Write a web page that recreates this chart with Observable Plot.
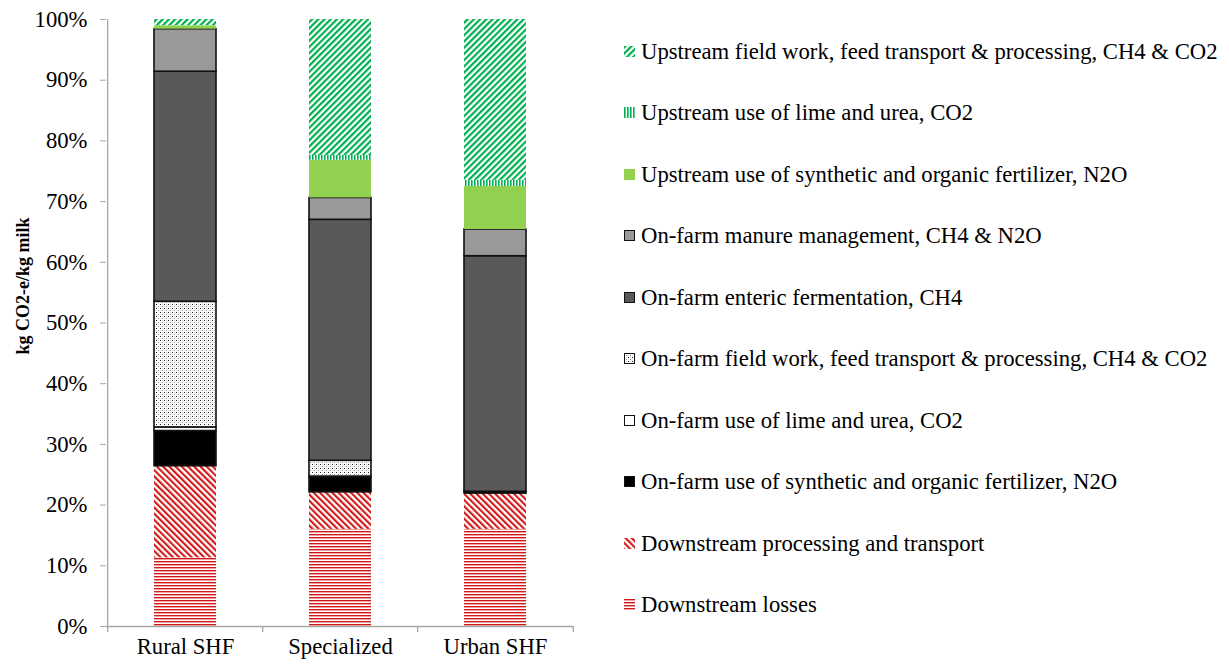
<!DOCTYPE html>
<html><head><meta charset="utf-8">
<script src="https://cdn.jsdelivr.net/npm/d3@7"></script>
<script src="https://cdn.jsdelivr.net/npm/@observablehq/plot@0.6"></script>
<style>
body{margin:0;background:#fff;font-family:"Liberation Serif","Times New Roman",serif;}
#wrap{position:relative;width:1229px;height:666px;overflow:hidden;}
#chart{position:absolute;left:0;top:0;}
#ytitle{position:absolute;left:23px;top:286px;transform:translate(-50%,-50%) rotate(-90deg);font-weight:bold;font-size:18px;white-space:nowrap;color:#000;}
.item{position:absolute;left:624px;height:24px;display:flex;align-items:center;white-space:nowrap;font-size:22.7px;color:#000;}
.item svg{margin-right:5px;flex:none;}
</style></head><body>
<svg width="0" height="0" style="position:absolute">
<defs>
<pattern id="pLoss" patternUnits="userSpaceOnUse" width="4" height="3"><rect width="4" height="3" fill="#fff"/><rect width="4" height="1.4" fill="#d01818"/><rect y="1.4" width="4" height="0.6" fill="#f0a0a0"/></pattern>
<pattern id="pProc" patternUnits="userSpaceOnUse" width="4.4" height="10" patternTransform="rotate(-45)"><rect width="4.4" height="10" fill="#fff"/><rect width="2.1" height="10" fill="#d01818"/></pattern>
<pattern id="pDots" patternUnits="userSpaceOnUse" width="4" height="4"><rect width="4" height="4" fill="#fff"/><rect width="1" height="1" fill="#222"/><rect x="2" y="2" width="1" height="1" fill="#999"/><rect x="2" y="0" width="1" height="1" fill="#ddd"/><rect x="0" y="2" width="1" height="1" fill="#ddd"/></pattern>
<pattern id="pUpLime" patternUnits="userSpaceOnUse" width="3" height="4"><rect width="3" height="4" fill="#fff"/><rect width="1.6" height="4" fill="#00b050"/></pattern>
<pattern id="pUpField" patternUnits="userSpaceOnUse" width="4.4" height="10" patternTransform="rotate(45)"><rect width="4.4" height="10" fill="#fff"/><rect width="2.2" height="10" fill="#00b050"/></pattern>
</defs></svg>
<div id="wrap"><div id="chart"></div><div id="ytitle">kg CO2-e/kg milk</div><div id="legend"></div></div>
<script>
// Categories (x axis)
const categories = ["Rural SHF", "Specialized", "Urban SHF"];
// Series names, bottom to top of stack
const seriesNames = [
  "Downstream losses",
  "Downstream processing and transport",
  "On-farm use of synthetic and organic fertilizer, N2O",
  "On-farm use of lime and urea, CO2",
  "On-farm field work, feed transport & processing, CH4 & CO2",
  "On-farm enteric fermentation, CH4",
  "On-farm manure management, CH4 & N2O",
  "Upstream use of synthetic and organic fertilizer, N2O",
  "Upstream use of lime and urea, CO2",
  "Upstream field work, feed transport & processing, CH4 & CO2"
];
// Values (% share) per category: Rural SHF, Specialized, Urban SHF
const downstreamLosses      = [11.3, 16.0, 16.0];
const downstreamProcessing  = [15.1, 6.1, 5.9];
const onFarmFertilizer      = [5.8, 2.5, 0.3];
const onFarmLimeUrea        = [0.6, 0.1, 0.0];
const onFarmFieldWork       = [20.7, 2.6, 0.0];
const onFarmEnteric         = [37.9, 39.7, 38.8];
const onFarmManure          = [7.0, 3.6, 4.4];
const upstreamFertilizer    = [0.55, 6.2, 7.1];
const upstreamLimeUrea      = [0.05, 0.8, 1.0];
const upstreamFieldWork     = [1.0, 22.4, 26.5];
const seriesValues = [downstreamLosses, downstreamProcessing, onFarmFertilizer, onFarmLimeUrea,
  onFarmFieldWork, onFarmEnteric, onFarmManure, upstreamFertilizer, upstreamLimeUrea, upstreamFieldWork];
const yTicks = [0, 10, 20, 30, 40, 50, 60, 70, 80, 90, 100];

// Styles per series
const fills = ["url(#pLoss)", "url(#pProc)", "#000000", "#ffffff", "url(#pDots)", "#595959", "#999999", "#92d050", "url(#pUpLime)", "url(#pUpField)"];
const strokes = ["none", "none", "#111", "#111", "#111", "#111", "#111", "none", "none", "none"];

const data = [];
seriesNames.forEach((s, i) => categories.forEach((c, j) => data.push({cat: c, series: s, idx: i, value: seriesValues[i][j]})));

const W = 590, ML = 106, MR = 17;
const step = (W - ML - MR) / categories.length;
const axisGrey = "#a6a6a6";

const plot = Plot.plot({
  width: W, height: 666,
  marginLeft: ML, marginRight: MR, marginTop: 19, marginBottom: 40,
  style: {fontFamily: "'Liberation Serif','Times New Roman',serif", fontSize: "22.7px", color: "#000", background: "#fff"},
  x: {domain: categories, paddingInner: 0.6, paddingOuter: 0.3, label: null},
  y: {domain: [0, 100], label: null},
  color: {type: "identity"},
  marks: [
    Plot.barY(data, {x: "cat", y: "value", fill: d => fills[d.idx], stroke: d => strokes[d.idx], strokeWidth: 1.6, order: null}),
    Plot.ruleY([0], {stroke: axisGrey, strokeWidth: 1.3}),
    Plot.ruleX([categories[0]], {dx: -step / 2, y1: -1, y2: 100, stroke: axisGrey, strokeWidth: 1.3}),
    Plot.ruleX(categories.slice(1), {dx: -step / 2, y1: -1, y2: 0, stroke: axisGrey, strokeWidth: 1.3}),
    Plot.ruleX([categories[categories.length - 1]], {dx: step / 2, y1: -1, y2: 0, stroke: axisGrey, strokeWidth: 1.3}),
    Plot.axisY(yTicks, {tickSize: 6, tickPadding: 13, stroke: axisGrey, fill: "#000", tickFormat: d => d + "%", label: null}),
    Plot.axisX({tickSize: 0, tickPadding: 11, fill: "#000", label: null})
  ]
});
document.getElementById("chart").appendChild(plot);

// Legend (top to bottom = reverse stack order)
const legend = document.getElementById("legend");
const order = seriesNames.map((_, i) => i).reverse();
order.forEach((i, k) => {
  const cy = 52 + k * 61.45;
  const div = document.createElement("div");
  div.className = "item";
  div.style.top = (cy - 12) + "px";
  const ns = "http://www.w3.org/2000/svg";
  const sw = document.createElementNS(ns, "svg");
  sw.setAttribute("width", 12); sw.setAttribute("height", 12);
  const r = document.createElementNS(ns, "rect");
  const st = strokes[i] !== "none";
  r.setAttribute("x", st ? 0.5 : 0); r.setAttribute("y", st ? 0.5 : 0);
  r.setAttribute("width", st ? 10 : 11); r.setAttribute("height", st ? 10 : 11);
  r.setAttribute("fill", fills[i]);
  r.setAttribute("stroke", strokes[i]);
  sw.appendChild(r);
  div.appendChild(sw);
  div.appendChild(document.createTextNode(seriesNames[i]));
  legend.appendChild(div);
});
</script>
</body></html>
